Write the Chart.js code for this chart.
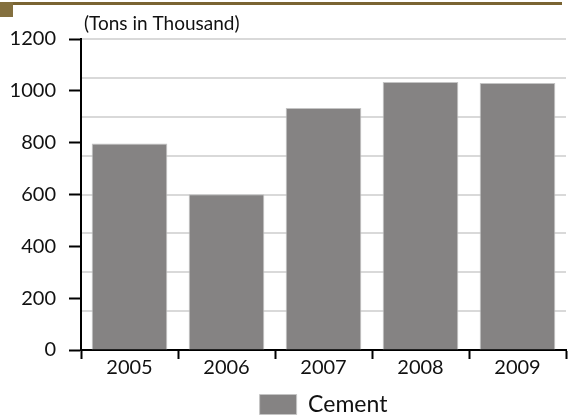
<!DOCTYPE html>
<html>
<head>
<meta charset="utf-8">
<script src="https://cdn.jsdelivr.net/npm/chart.js@4.4.1/dist/chart.umd.min.js"></script>
<style>
  html, body { margin: 0; padding: 0; background: #ffffff; }
  #wrap { width: 572px; height: 418px; position: relative; }
</style>
</head>
<body>
<div id="wrap"><canvas id="chart" width="572" height="418"></canvas></div>
<script>
// Cement output by year, tons in thousand
const years = ['2005', '2006', '2007', '2008', '2009'];
const cement = [797, 601, 934, 1034, 1030];
const yTicks = [0, 200, 400, 600, 800, 1000, 1200];
const unitLabel = '(Tons in Thousand)';
const seriesName = 'Cement';

const FONT = 'Lato, "Open Sans", sans-serif';

// Brown header rule and corner block, plus the unit caption above the plot
const decor = {
  id: 'decor',
  beforeDraw(chart) {
    const ctx = chart.ctx;
    ctx.save();
    ctx.fillStyle = '#ffffff';
    ctx.fillRect(0, 0, chart.width, chart.height);
    ctx.fillStyle = '#7a6432';
    ctx.fillRect(13, 2, 549, 3);
    ctx.fillStyle = '#84703f';
    ctx.fillRect(0, 2, 13, 15);
    ctx.restore();
  },
  afterDraw(chart) {
    const ctx = chart.ctx;
    const area = chart.chartArea;
    ctx.save();
    ctx.font = '19px ' + FONT;
    ctx.fillStyle = '#111111';
    ctx.textBaseline = 'middle';
    ctx.textAlign = 'left';
    ctx.fillText(unitLabel, area.left + 3, 24);
    ctx.restore();
  }
};

new Chart(document.getElementById('chart'), {
  type: 'bar',
  data: {
    labels: years,
    datasets: [{
      label: seriesName,
      data: cement,
      backgroundColor: '#858383',
      borderColor: '#c4c4c4',
      borderWidth: 1,
      barPercentage: 0.78,
      categoryPercentage: 1.0
    }]
  },
  options: {
    responsive: false,
    animation: false,
    devicePixelRatio: 1,
    layout: { padding: { top: 39, right: 6, left: 0, bottom: -8 } },
    plugins: {
      legend: {
        position: 'bottom',
        fullSize: false,
        labels: {
          boxWidth: 37,
          boxHeight: 20,
          padding: 16,
          color: '#111111',
          font: { family: FONT, size: 23 }
        }
      },
      tooltip: { enabled: false },
      title: { display: false }
    },
    scales: {
      x: {
        grid: {
          display: true,
          offset: true,
          drawOnChartArea: false,
          drawTicks: true,
          tickLength: 9,
          tickWidth: 2,
          tickColor: '#000000'
        },
        border: { display: true, color: '#000000', width: 2 },
        ticks: {
          color: '#111111',
          font: { family: FONT, size: 20 },
          padding: -3
        }
      },
      y: {
        min: 0,
        max: 1200,
        afterBuildTicks(scale) {
          scale.ticks = yTicks.map(v => ({ value: v }));
        },
        afterFit(scale) { scale.width = 81; },
        grid: {
          display: true,
          drawOnChartArea: false,
          drawTicks: true,
          tickLength: 12,
          tickWidth: 2,
          tickColor: '#000000'
        },
        border: { display: true, color: '#000000', width: 2 },
        ticks: {
          color: '#111111',
          font: { family: FONT, size: 20 },
          padding: 13,
          callback: v => String(v)
        }
      },
      yGrid: {
        position: 'right',
        min: 0,
        max: 1200,
        ticks: { display: false, stepSize: 150 },
        afterFit(scale) { scale.width = 0; },
        grid: {
          display: true,
          drawTicks: false,
          color: '#d9d9d9',
          lineWidth: 2
        },
        border: { display: false }
      }
    }
  },
  plugins: [decor]
});
</script>
</body>
</html>
